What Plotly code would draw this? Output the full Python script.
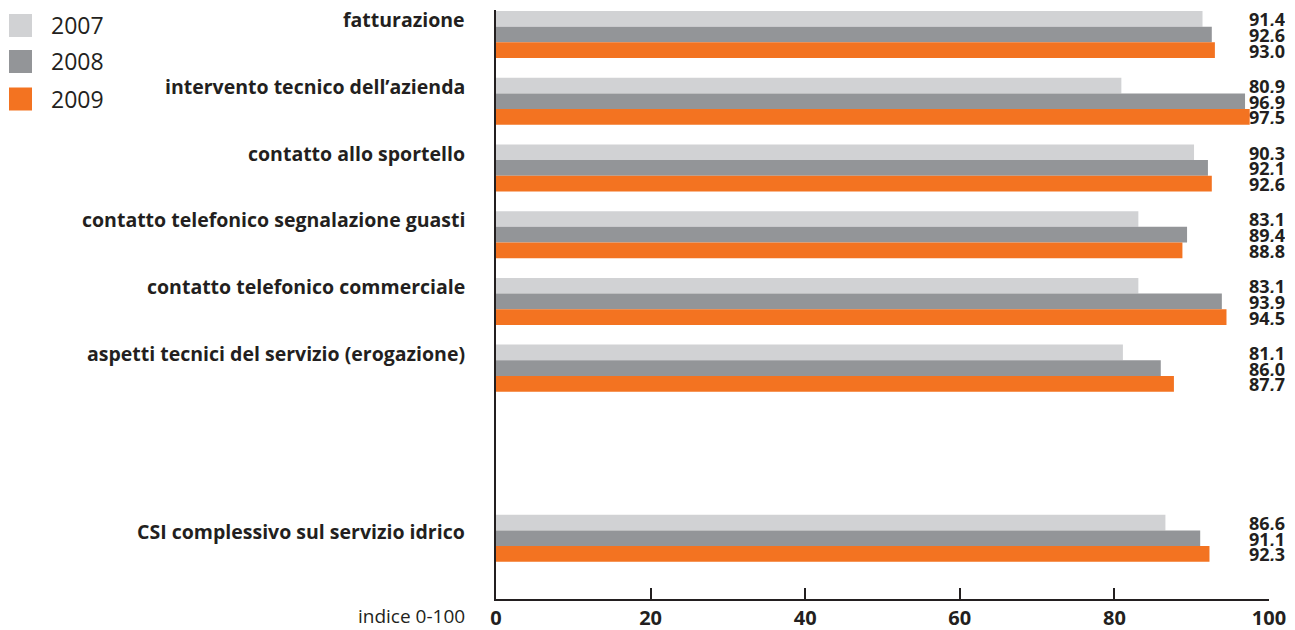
import plotly.graph_objects as go

categories = [
    "fatturazione",
    "intervento tecnico dell\u2019azienda",
    "contatto allo sportello",
    "contatto telefonico segnalazione guasti",
    "contatto telefonico commerciale",
    "aspetti tecnici del servizio (erogazione)",
    "CSI complessivo sul servizio idrico",
]
years = ["2007", "2008", "2009"]
v2007 = [91.4, 80.9, 90.3, 83.1, 83.1, 81.1, 86.6]
v2008 = [92.6, 96.9, 92.1, 89.4, 93.9, 86.0, 91.1]
v2009 = [93.0, 97.5, 92.6, 88.8, 94.5, 87.7, 92.3]
series = [v2007, v2008, v2009]
x_ticks = [0, 20, 40, 60, 80, 100]
axis_note = "indice 0-100"

# layout positions (row slots; gap before the summary row)
positions = [0, 1, 2, 3, 4, 5, 7.55]
label_offsets = [-0.22, -0.22, -0.22, -0.22, -0.22, -0.22, -0.1]
colors = ["#d1d2d4", "#939598", "#f37321"]
text_color = "#231f20"
BARGAP = 0.295
FONT = "Open Sans"

fig = go.Figure()
for yr, vals, col in zip(years, series, colors):
    fig.add_trace(go.Bar(
        x=vals, y=positions, orientation="h", name=yr,
        marker=dict(color=col, line=dict(width=0)),
        showlegend=False, hoverinfo="x+name",
    ))

bw = (1 - BARGAP) / 3
annotations = []
for i, vals in enumerate(series):
    for p, v in zip(positions, vals):
        annotations.append(dict(
            xref="paper", yref="y", x=1.0235, y=p + (i - 1) * bw,
            text=f"{v:.1f}".replace(".", ","), showarrow=False,
            xanchor="right", yanchor="middle", height=15, valign="middle",
            font=dict(family=FONT, size=18, color=text_color, weight="bold"),
        ))
for c, p, off in zip(categories, positions, label_offsets):
    annotations.append(dict(
        xref="paper", yref="y", x=-0.0375, y=p + off,
        text=c, showarrow=False, xanchor="right", yanchor="middle",
        font=dict(family=FONT, size=19.5, color=text_color, weight="bold"),
    ))
annotations.append(dict(
    xref="paper", yref="paper", x=-0.0375, y=-0.029,
    text=axis_note, showarrow=False, xanchor="right", yanchor="middle",
    font=dict(family=FONT, size=19, color=text_color),
))

# manual legend
shapes = []
leg_y = [25.5, 61.5, 99]
for yr, col, yc in zip(years, colors, leg_y):
    shapes.append(dict(
        type="rect", xref="paper", yref="paper",
        x0=(9 - 496) / 773, x1=(32 - 496) / 773,
        y0=(599 - (yc - 11.5)) / 589, y1=(599 - (yc + 11.5)) / 589,
        fillcolor=col, line=dict(width=0), layer="above",
    ))
    annotations.append(dict(
        xref="paper", yref="paper", x=(49 - 496) / 773, y=(599 - yc) / 589,
        text=yr, showarrow=False, xanchor="left", yanchor="middle",
        font=dict(family=FONT, size=23, color=text_color),
    ))

fig.update_layout(
    width=1295, height=630,
    margin=dict(l=496, r=26, t=10, b=31, autoexpand=False),
    paper_bgcolor="white", plot_bgcolor="white",
    barmode="group", bargap=BARGAP, bargroupgap=0,
    annotations=annotations, shapes=shapes,
    xaxis=dict(
        range=[0, 100], tickvals=x_ticks, ticktext=[str(t) for t in x_ticks],
        showgrid=False, zeroline=False, showline=True,
        linecolor=text_color, linewidth=2,
        ticks="inside", ticklen=11, tickwidth=1.5, tickcolor=text_color,
        tickfont=dict(family=FONT, size=20, color=text_color, weight="bold"),
        ticklabelstandoff=0, automargin=False, fixedrange=True,
    ),
    yaxis=dict(
        range=[8.46, -0.367], showgrid=False, zeroline=False,
        showline=True, linecolor=text_color, linewidth=2,
        showticklabels=False, ticks="", automargin=False, fixedrange=True,
    ),
)

fig.write_html("out.html")
